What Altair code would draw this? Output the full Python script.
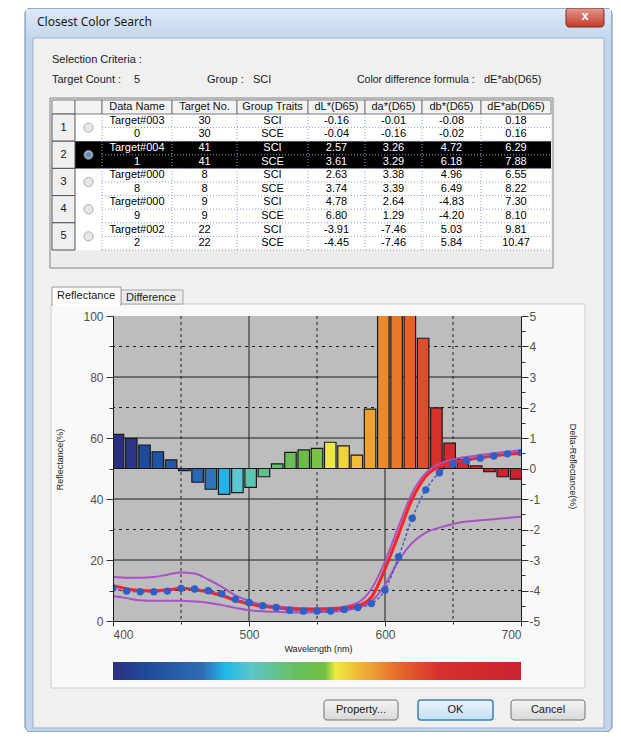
import altair as alt
import pandas as pd

# ------------------------------------------------------------------ data
WAVELENGTHS = list(range(400, 701, 10))
DELTA_REFL = [1.12, 0.99, 0.77, 0.55, 0.28, -0.07, -0.45, -0.68, -0.85, -0.79,
              -0.62, -0.27, 0.15, 0.53, 0.61, 0.66, 0.86, 0.74, 0.44, 1.95,
              6.8, 7.4, 6.3, 4.27, 1.99, 0.83, 0.30, 0.09, -0.10, -0.27, -0.35]
TARGET_REFL = [11.6, 10.6, 10.0, 9.9, 10.2, 10.7, 10.2, 9.5, 8.3, 6.8,
               5.6, 4.8, 4.4, 3.9, 3.8, 3.8, 4.0, 4.3, 5.0, 7.8,
               17.0, 28.4, 40.0, 47.4, 50.6, 52.0, 52.8, 53.5, 54.1, 54.7, 55.0]
SAMPLE_REFL = [10.8, 9.8, 9.6, 9.6, 9.8, 10.7, 10.5, 9.9, 8.9, 7.1,
               6.1, 5.0, 4.4, 3.5, 3.3, 3.3, 3.3, 3.8, 4.4, 5.7,
               10.2, 21.0, 33.7, 43.0, 48.6, 51.5, 52.6, 53.4, 54.1, 54.8, 55.2]
UPPER_TOL = [14.5, 14.2, 14.2, 14.4, 15.2, 15.9, 15.6, 13.6, 11.2, 8.4,
             6.6, 5.4, 4.8, 4.4, 4.2, 4.2, 4.3, 4.7, 6.0, 10.5,
             19.5, 31.0, 42.0, 48.5, 51.5, 53.0, 53.8, 54.4, 55.0, 55.5, 56.0]
LOWER_TOL = [8.2, 7.5, 6.8, 6.6, 6.6, 6.6, 6.4, 6.0, 5.2, 4.3,
             3.5, 3.2, 3.0, 2.8, 2.8, 2.9, 3.0, 3.4, 4.3, 6.4,
             11.8, 19.8, 25.6, 29.0, 30.6, 31.8, 32.6, 33.0, 33.4, 33.8, 34.2]
BAR_COLORS = ["#2b2f7f", "#2a3588", "#1f4a9c", "#1f51a5", "#2357a9", "#2a5fab",
              "#2b66b2", "#2d74ba", "#23b3e6", "#5cc7d2", "#5dc6b1", "#5cbf8e",
              "#62bf72", "#69bf55", "#6cbe48", "#7ac243", "#ece845", "#eed33c",
              "#f0bd3b", "#eea131", "#ea8a2c", "#e8782a", "#e6622a", "#e04b2b",
              "#d8312c", "#d52b2c", "#d32a2d", "#d1282e", "#cf262e", "#cc252f",
              "#c92430"]
SPECTRUM_STOPS = [(0.0, "#2b2f7f"), (0.08, "#1f4a9c"), (0.22, "#2d6db6"),
                  (0.275, "#22b8ec"), (0.34, "#5cc7c8"), (0.45, "#66bf5c"),
                  (0.52, "#72c043"), (0.545, "#eeea40"), (0.6, "#f0bb3a"),
                  (0.69, "#e8702a"), (0.8, "#d8302c"), (1.0, "#c92430")]

HEADERS = ["Data Name", "Target No.", "Group Traits", "dL*(D65)", "da*(D65)",
           "db*(D65)", "dE*ab(D65)"]
DATA_NAMES = ["Target#0030", "Target#0041", "Target#0008", "Target#0009", "Target#0022"]
TARGET_NOS = [30, 41, 8, 9, 22]
GROUP_TRAITS = ["SCI", "SCE"]
DL = [[-0.16, -0.04], [2.57, 3.61], [2.63, 3.74], [4.78, 6.80], [-3.91, -4.45]]
DA = [[-0.01, -0.16], [3.26, 3.29], [3.38, 3.39], [2.64, 1.29], [-7.46, -7.46]]
DB = [[-0.08, -0.02], [4.72, 6.18], [4.96, 6.49], [-4.83, -4.20], [5.03, 5.84]]
DE = [[0.18, 0.16], [6.29, 7.88], [6.55, 8.22], [7.30, 8.10], [9.81, 10.47]]
SELECTED = 1

LEFT_TICKS = list(range(0, 101, 10))
RIGHT_TICKS = [v / 2 for v in range(-10, 11)]
X_TICKS = list(range(400, 701, 50))
H_GRID_SOLID = [20, 40, 50, 60, 80]
H_GRID_DASHED = [10, 30, 70, 90]
V_GRID_SOLID = [500, 600]
V_GRID_DASHED = [450, 550, 650]

# ------------------------------------------------------------------ layout
OX, OY = 113, 316          # page position of the plot origin
W, H = 408, 305
CANVAS_W, CANVAS_H = 605, 724
UI = "Liberation Sans, Arial, sans-serif"
COL_EDGES = [52, 75, 102, 172, 237, 308, 365, 422, 481, 551]
BOTTOM = 732               # lowest page row available

ONE = alt.Data(values=[{"k": 0}])


def box(x1, y1, x2, y2, **kw):
    return alt.Chart(ONE).mark_rect(**kw).encode(
        x=alt.value(x1 - OX), x2=alt.value(x2 - OX),
        y=alt.value(y1 - OY), y2=alt.value(y2 - OY))


def label(s, x, y, **kw):
    opts = dict(font=UI, fontSize=11, color="#1a1a1a", align="left", baseline="middle")
    opts.update(kw)
    return alt.Chart(ONE).mark_text(text=s, **opts).encode(
        x=alt.value(x - OX), y=alt.value(y - OY))


def vgrad(c1, c2):
    return alt.LinearGradient(gradient="linear",
                              stops=[alt.GradientStop(color=c1, offset=0),
                                     alt.GradientStop(color=c2, offset=1)],
                              x1=0, x2=0, y1=0, y2=1)


layers = []
# window chrome
layers.append(box(25, 8, 612, BOTTOM, fill="#c2d5eb", stroke="#6d87a6", cornerRadius=6))
layers.append(box(26, 9, 611, 38, fill=vgrad("#dde9f7", "#c4d7ee")))
layers.append(label("Closest Color Search", 37, 22, font="Noto Sans, sans-serif", fontSize=12))
layers.append(box(566, 8, 604, 27, fill=vgrad("#e49a8e", "#c23a2b"), stroke="#7a2a22", cornerRadius=3))
layers.append(label("x", 585, 16, align="center", color="white", fontWeight="bold", fontSize=13))
layers.append(box(33, 38, 604, BOTTOM - 4, fill="#f0f0f0", stroke="#9fb3cc"))

# selection criteria text
layers.append(label("Selection Criteria :", 52, 60))
layers.append(label("Target Count :", 52, 80))
layers.append(label("5", 134, 80))
layers.append(label("Group :", 207, 80))
layers.append(label("SCI", 253, 80))
layers.append(label("Color difference formula :", 357, 80, fontSize=10.5))
layers.append(label("dE*ab(D65)", 484, 80))

# ------------------------------------------------------------------ table
TX = alt.Scale(domain=list(range(len(COL_EDGES))), range=[e - OX for e in COL_EDGES],
               zero=False, nice=False)
TY = alt.Scale(domain=[0, 1, 11], range=[100 - OY, 114 - OY, 250 - OY], zero=False, nice=False)


def XT(f):
    return alt.X(f, type="quantitative", scale=TX, axis=None)


def YT(f):
    return alt.Y(f, type="quantitative", scale=TY, axis=None)


layers.append(box(50, 98, 553, 268, fill="#ececec", stroke="#828282"))

nrow = len(DATA_NAMES)
ncol = len(COL_EDGES) - 1
white_df = pd.DataFrame({"c0": [1], "c1": [ncol], "r0": [1], "r1": [1 + 2 * nrow]})
layers.append(alt.Chart(white_df).mark_rect(fill="white").encode(
    x=XT("c0"), x2="c1", y=YT("r0"), y2="r1"))
sel_df = pd.DataFrame({"c0": [1], "c1": [ncol], "r0": [1 + 2 * SELECTED], "r1": [3 + 2 * SELECTED]})
layers.append(alt.Chart(sel_df).mark_rect(fill="black").encode(
    x=XT("c0"), x2="c1", y=YT("r0"), y2="r1"))

# dotted grid lines
hl = pd.DataFrame({"r": list(range(2, 2 + 2 * nrow))})
layers.append(alt.Chart(hl).mark_rule(color="#8fa3c6", strokeDash=[1, 2], strokeWidth=1).encode(
    y=YT("r"), x=alt.X("c0:Q", scale=TX, axis=None), x2="c1").transform_calculate(c0="2", c1=str(ncol)))
vl = pd.DataFrame({"c": list(range(2, ncol))})
layers.append(alt.Chart(vl).mark_rule(color="#8fa3c6", strokeDash=[1, 2], strokeWidth=1).encode(
    x=XT("c"), y=alt.Y("r0:Q", scale=TY, axis=None), y2="r1").transform_calculate(r0="1", r1=str(1 + 2 * nrow)))

# header cells
hdr_df = pd.DataFrame({"c0": list(range(ncol)), "c1": list(range(1, ncol + 1)), "r0": 0, "r1": 1})
layers.append(alt.Chart(hdr_df).mark_rect(fill="#f3f3f3", stroke="#7d7d7d", strokeWidth=1).encode(
    x=XT("c0"), x2="c1", y=YT("r0"), y2="r1"))
rh_df = pd.DataFrame({"c0": 0, "c1": 1, "r0": [1 + 2 * r for r in range(nrow)],
                      "r1": [3 + 2 * r for r in range(nrow)]})
layers.append(alt.Chart(rh_df).mark_rect(fill="#f0f0f0", stroke="#555555", strokeWidth=1).encode(
    x=XT("c0"), x2="c1", y=YT("r0"), y2="r1"))

htxt = pd.DataFrame({"cx": [2.5 + j for j in range(len(HEADERS))], "cy": 0.5, "t": HEADERS})
layers.append(alt.Chart(htxt).mark_text(font=UI, fontSize=11, color="#111", baseline="middle").encode(
    x=XT("cx"), y=YT("cy"), text="t:N"))

rows = []
for r in range(nrow):
    for s in range(2):
        name = DATA_NAMES[r][:10] if s == 0 else DATA_NAMES[r][10:]
        vals = [name, str(TARGET_NOS[r]), GROUP_TRAITS[s], f"{DL[r][s]:.2f}",
                f"{DA[r][s]:.2f}", f"{DB[r][s]:.2f}", f"{DE[r][s]:.2f}"]
        for j, v in enumerate(vals):
            rows.append({"cx": 2.5 + j, "cy": 1.5 + 2 * r + s, "t": v, "sel": r == SELECTED})
cell_df = pd.DataFrame(rows)
layers.append(alt.Chart(cell_df).mark_text(font=UI, fontSize=11, baseline="middle").encode(
    x=XT("cx"), y=YT("cy"), text="t:N",
    color=alt.condition("datum.sel", alt.value("white"), alt.value("black"))))

rn_df = pd.DataFrame({"cx": 0.5, "cx2": 1.5, "cy": [2 + 2 * r for r in range(nrow)],
                      "n": [str(r + 1) for r in range(nrow)], "sel": [r == SELECTED for r in range(nrow)]})
layers.append(alt.Chart(rn_df).mark_text(font=UI, fontSize=11, baseline="middle", color="#111").encode(
    x=XT("cx"), y=YT("cy"), text="n:N"))
layers.append(alt.Chart(rn_df).mark_point(shape="circle", filled=True, size=85, stroke="#8c8c8c",
                                          strokeWidth=1).encode(
    x=XT("cx2"), y=YT("cy"),
    fill=alt.condition("datum.sel", alt.value("#ffffff"), alt.value("#dedede"))))
layers.append(alt.Chart(rn_df).transform_filter("datum.sel").mark_point(
    shape="circle", filled=True, size=28, color="#2f78c8").encode(x=XT("cx2"), y=YT("cy")))

# ------------------------------------------------------------------ tabs / panel
layers.append(box(51, 304, 585, 688, fill="#f9f9f9", stroke="#cdcdcd"))
layers.append(box(121, 290, 183, 304, fill="#ebebeb", stroke="#a5a5a5"))
layers.append(box(52, 287, 121, 305, fill="#ffffff", stroke="#9a9a9a"))
layers.append(box(53, 303, 120, 306, fill="#ffffff"))
layers.append(label("Reflectance", 57, 296))
layers.append(label("Difference", 126, 298))

# ------------------------------------------------------------------ spectral plot
XS = alt.Scale(domain=[WAVELENGTHS[0], WAVELENGTHS[-1]], nice=False, zero=False)
YL = alt.Scale(domain=[LEFT_TICKS[0], LEFT_TICKS[-1]], nice=False, zero=False)
YR = alt.Scale(domain=[RIGHT_TICKS[0], RIGHT_TICKS[-1]], nice=False, zero=False)

axis_common = dict(labelFont=UI, labelFontSize=12, labelColor="#56514c", domainColor="#1a1a1a",
                   tickColor="#333333", grid=False, titleFont=UI, titleFontSize=9,
                   titleFontWeight="normal", titleColor="#222222", titleBaseline="middle",
                   titleAlign="center", zindex=1)

x_axis = alt.Axis(values=X_TICKS, labelExpr="datum.value % 100 === 0 ? datum.label : ''",
                  tickSize={"condition": {"test": "datum.value % 100 === 0", "value": 5}, "value": 3},
                  labelPadding=3, title="Wavelength (nm)", titleX=205, titleY=27, **axis_common)
yl_axis = alt.Axis(values=LEFT_TICKS, labelExpr="datum.value % 20 === 0 ? datum.label : ''",
                   tickSize={"condition": {"test": "datum.value % 20 === 0", "value": 7}, "value": 4},
                   labelPadding=3, title="Reflectance(%)", titleX=-54, titleY=143, titleAngle=270,
                   **axis_common)
yr_axis = alt.Axis(orient="right", values=RIGHT_TICKS,
                   labelExpr="datum.value % 1 === 0 ? '' + datum.value : ''",
                   tickSize={"condition": {"test": "datum.value % 1 === 0", "value": 7}, "value": 4},
                   labelPadding=1, title="Delta-Reflectance(%)", titleX=51.5, titleY=150,
                   titleAngle=90, **axis_common)

bg_df = pd.DataFrame({"x0": [WAVELENGTHS[0]], "x1": [WAVELENGTHS[-1]],
                      "y0": [LEFT_TICKS[0]], "y1": [LEFT_TICKS[-1]]})
layers.append(alt.Chart(bg_df).mark_rect(fill="#bdbdbd").encode(
    x=alt.X("x0:Q", scale=XS, axis=x_axis), x2="x1",
    y=alt.Y("y0:Q", scale=YL, axis=yl_axis), y2="y1"))

for vals, dash in [(H_GRID_DASHED, [3, 4]), (H_GRID_SOLID, [1, 0])]:
    layers.append(alt.Chart(pd.DataFrame({"v": vals})).mark_rule(
        color="#1e1e1e", strokeWidth=1, strokeDash=dash).encode(
        y=alt.Y("v:Q", scale=YL, axis=None)))
for vals, dash in [(V_GRID_DASHED, [3, 3]), (V_GRID_SOLID, [1, 0])]:
    layers.append(alt.Chart(pd.DataFrame({"v": vals})).mark_rule(
        color="#1e1e1e", strokeWidth=1, strokeDash=dash).encode(
        x=alt.X("v:Q", scale=XS, axis=None)))

bar_df = pd.DataFrame({"wl": WAVELENGTHS, "d": DELTA_REFL})
layers.append(alt.Chart(bar_df).mark_bar(size=11.5, stroke="#1a1a1a", strokeWidth=1.2, clip=True).encode(
    x=alt.X("wl:Q", scale=XS, axis=None),
    y=alt.Y("d:Q", scale=YR, axis=yr_axis),
    color=alt.Color("wl:O", scale=alt.Scale(domain=WAVELENGTHS, range=BAR_COLORS), legend=None)))


def curve(values, **mk):
    df = pd.DataFrame({"wl": WAVELENGTHS, "r": values})
    return alt.Chart(df).mark_line(interpolate="monotone", **mk).encode(
        x=alt.X("wl:Q", scale=XS, axis=None), y=alt.Y("r:Q", scale=YL, axis=None))


layers.append(curve(UPPER_TOL, color="#a653c6", strokeWidth=2))
layers.append(curve(LOWER_TOL, color="#a653c6", strokeWidth=2))
layers.append(curve(TARGET_REFL, color="#ff2424", strokeWidth=3))
layers.append(curve(SAMPLE_REFL, color="#4a5cc4", strokeWidth=1.5, strokeDash=[3, 2]))
sample_df = pd.DataFrame({"wl": WAVELENGTHS, "r": SAMPLE_REFL})
layers.append(alt.Chart(sample_df).mark_circle(size=55, color="#2f5fc4", opacity=1, clip=True).encode(
    x=alt.X("wl:Q", scale=XS, axis=None), y=alt.Y("r:Q", scale=YL, axis=None)))

# spectrum colour bar
spec_df = pd.DataFrame({"a": [WAVELENGTHS[0]], "b": [WAVELENGTHS[-1]]})
spec_grad = alt.LinearGradient(gradient="linear",
                               stops=[alt.GradientStop(color=c, offset=o) for o, c in SPECTRUM_STOPS],
                               x1=0, x2=1, y1=0, y2=0)
layers.append(alt.Chart(spec_df).mark_rect(fill=spec_grad).encode(
    x=alt.X("a:Q", scale=XS, axis=None), x2="b",
    y=alt.value(662 - OY), y2=alt.value(680 - OY)))

# ------------------------------------------------------------------ buttons
for x1, x2, txt, default in [(324, 398, "Property...", False), (418, 493, "OK", True),
                             (511, 585, "Cancel", False)]:
    if default:
        layers.append(box(x1, 700, x2, 720, fill=vgrad("#eaf4fc", "#c4e0f5"), stroke="#3c7fb1",
                          strokeWidth=1.5, cornerRadius=3))
    else:
        layers.append(box(x1, 700, x2, 720, fill=vgrad("#f4f4f4", "#d9d9d9"), stroke="#707070",
                          cornerRadius=3))
    layers.append(label(txt, (x1 + x2) / 2, 710, align="center"))

chart = alt.layer(*layers).resolve_scale(
    x="independent", y="independent", color="independent", fill="independent"
).properties(
    width=W, height=H,
    autosize=alt.AutoSizeParams(type="none"),
    padding={"left": OX - 8, "top": OY - 8, "right": CANVAS_W - (OX - 8) - W,
             "bottom": CANVAS_H - (OY - 8) - H},
    background="white",
).configure_view(stroke="transparent")

chart.save("out.html", embed_options={"renderer": "svg", "actions": False})
